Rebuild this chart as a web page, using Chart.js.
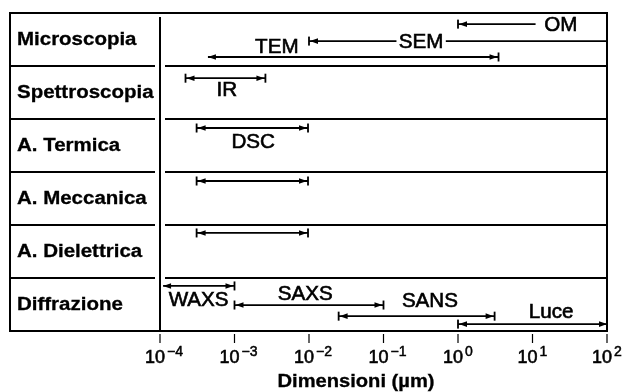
<!DOCTYPE html>
<html lang="it">
<head>
<meta charset="utf-8">
<title>Tecniche di caratterizzazione</title>
<script src="https://cdn.jsdelivr.net/npm/chart.js@4"></script>
<style>
  html, body { margin: 0; padding: 0; background: #fff; }
  canvas { display: block; }
</style>
</head>
<body>
<canvas id="grafico" width="622" height="392"></canvas>
<script>
const categorie = ["Microscopia", "Spettroscopia", "A. Termica", "A. Meccanica", "A. Dielettrica", "Diffrazione"];

// una voce per ogni freccia
const tecniche = ["OM", "SEM", "TEM", "IR", "DSC", "", "", "WAXS", "SAXS", "SANS", "Luce"];
const riga = [0, 0, 0, 1, 2, 3, 4, 5, 5, 5, 5];
const quota = [0.21, 0.53, 0.83, 0.23, 0.17, 0.17, 0.15, 0.15, 0.51, 0.72, 0.87]; // posizione dentro la riga
const minimo = [1, 0.01, 4.4e-4, 2.2e-4, 3.1e-4, 3.1e-4, 3.1e-4, 1.1e-4, 1e-3, 0.025, 1];
const massimo = [11, 100, 3.5, 2.6e-3, 9.7e-3, 9.7e-3, 9.7e-3, 1e-3, 0.1, 3.1, 100];
// "|" = limite netto, ">" = aperto, "" = niente
const estremoMin = ["|", "|", ">", "|", "|", "|", "|", ">", "|", "|", "|"];
const estremoMax = ["", "", "|", "|", "|", "|", "|", "|", "|", "|", ">"];
const etichettaX = [24, 0.32, 3.7e-3, 7.9e-4, 1.78e-3, null, null, 3.3e-4, 8.9e-3, 0.42, 17.8];
const etichettaY = [0.21, 0.53, 0.64, 0.45, 0.42, null, null, 0.40, 0.30, 0.43, 0.64];

const tickValori = [1e-4, 1e-3, 1e-2, 1e-1, 1, 10, 100];
const tickEsponenti = ["\u22124", "\u22123", "\u22122", "\u22121", "0", "1", "2"];
const titoloAsse = "Dimensioni (\u00b5m)";

const FONT = "'Liberation Sans', Arial, Helvetica, sans-serif";

// testo un po' allargato e ripassato, come nella figura scansionata
function testo(ctx, s, x, y, font, allarga, allinea, base, spessore) {
  ctx.save();
  ctx.font = font;
  ctx.textAlign = allinea;
  ctx.textBaseline = base;
  ctx.translate(x, y);
  ctx.scale(allarga, 1);
  ctx.fillText(s, 0, 0);
  if (spessore) {
    ctx.lineWidth = spessore;
    ctx.strokeStyle = ctx.fillStyle;
    ctx.strokeText(s, 0, 0);
  }
  ctx.restore();
}

function punta(ctx, x, y, verso) {
  ctx.beginPath();
  ctx.moveTo(x, y);
  ctx.lineTo(x - verso * 8, y - 2.8);
  ctx.lineTo(x - verso * 8, y + 2.8);
  ctx.closePath();
  ctx.fill();
}

function barretta(ctx, x, y) {
  ctx.fillRect(x - 0.9, y - 4.5, 1.8, 9);
}

const cornice = {
  id: "cornice",
  beforeDatasetsDraw(chart) {
    const ctx = chart.ctx;
    const area = chart.chartArea;
    const xs = chart.scales.x;
    const ys = chart.scales.y;
    const sx = area.left - 150;

    ctx.save();
    ctx.strokeStyle = "#000";
    ctx.fillStyle = "#000";
    ctx.lineWidth = 2;
    ctx.strokeRect(sx, area.top, area.right - sx, area.bottom - area.top);

    ctx.beginPath();
    ctx.moveTo(area.left, area.top + 4);
    ctx.lineTo(area.left, area.bottom);
    for (let i = 1; i < categorie.length; i++) {
      const y = ys.getPixelForValue(i);
      ctx.moveTo(sx, y);
      ctx.lineTo(area.left - 5, y);
      ctx.moveTo(area.left + 5, y);
      ctx.lineTo(area.right, y);
    }
    ctx.stroke();

    categorie.forEach((c, i) => {
      testo(ctx, c, sx + 7, ys.getPixelForValue(i + 0.5) + 1, "bold 17.5px " + FONT, 1.17, "left", "middle", 0.3);
    });

    // tacche e etichette dell'asse
    ctx.lineWidth = 1.2;
    ctx.beginPath();
    tickValori.forEach((v) => {
      const x = xs.getPixelForValue(v);
      ctx.moveTo(x, area.bottom + 3);
      ctx.lineTo(x, area.bottom + 12);
    });
    ctx.stroke();

    tickValori.forEach((v, i) => {
      const x = xs.getPixelForValue(v);
      testo(ctx, "10", x + 5, area.bottom + 32, "18px " + FONT, 1, "right", "alphabetic", 0.6);
      testo(ctx, tickEsponenti[i], x + 7, area.bottom + 25, "14px " + FONT, 1, "left", "alphabetic", 0.5);
    });

    testo(ctx, titoloAsse, 356, 387, "bold 17.5px " + FONT, 1.15, "center", "alphabetic", 0.3);
    ctx.restore();
  },
  afterDatasetsDraw(chart) {
    const ctx = chart.ctx;
    const xs = chart.scales.x;
    const ys = chart.scales.y;
    ctx.save();
    ctx.fillStyle = "#000";

    tecniche.forEach((t, i) => {
      const meta = chart.getDatasetMeta(i);
      const a = meta.data[0];
      const b = meta.data[1];

      if (estremoMin[i] === "|") {
        barretta(ctx, a.x, a.y);
        punta(ctx, a.x + 1, a.y, -1);
      } else if (estremoMin[i] === ">") {
        punta(ctx, a.x, a.y, -1);
      }
      if (estremoMax[i] === "|") {
        barretta(ctx, b.x, b.y);
        punta(ctx, b.x - 1, b.y, 1);
      } else if (estremoMax[i] === ">") {
        punta(ctx, b.x, b.y, 1);
      }

      if (t && etichettaX[i] !== null) {
        const x = xs.getPixelForValue(etichettaX[i]);
        const y = ys.getPixelForValue(riga[i] + etichettaY[i]);
        ctx.font = "20px " + FONT;
        const w = ctx.measureText(t).width;
        ctx.fillStyle = "#fff";
        ctx.fillRect(x - w / 2 - 3, y - 8, w + 6, 16);
        ctx.fillStyle = "#000";
        testo(ctx, t, x, y + 1, "20px " + FONT, 1.03, "center", "middle", 0.6);
      }
    });
    ctx.restore();
  }
};

const datasets = tecniche.map((t, i) => ({
  label: t,
  data: [
    { x: minimo[i], y: riga[i] + quota[i] },
    { x: massimo[i], y: riga[i] + quota[i] }
  ],
  showLine: true,
  borderColor: "#000",
  borderWidth: 1.8,
  pointRadius: 0,
  clip: false
}));

new Chart(document.getElementById("grafico"), {
  type: "scatter",
  data: { datasets },
  options: {
    responsive: false,
    animation: false,
    events: [],
    layout: { padding: { left: 160, right: 15, top: 13, bottom: 61 } },
    plugins: { legend: { display: false }, tooltip: { enabled: false } },
    scales: {
      x: { type: "logarithmic", min: 1e-4, max: 100, display: false },
      y: { type: "linear", min: 0, max: categorie.length, reverse: true, display: false }
    }
  },
  plugins: [cornice]
});
</script>
</body>
</html>
